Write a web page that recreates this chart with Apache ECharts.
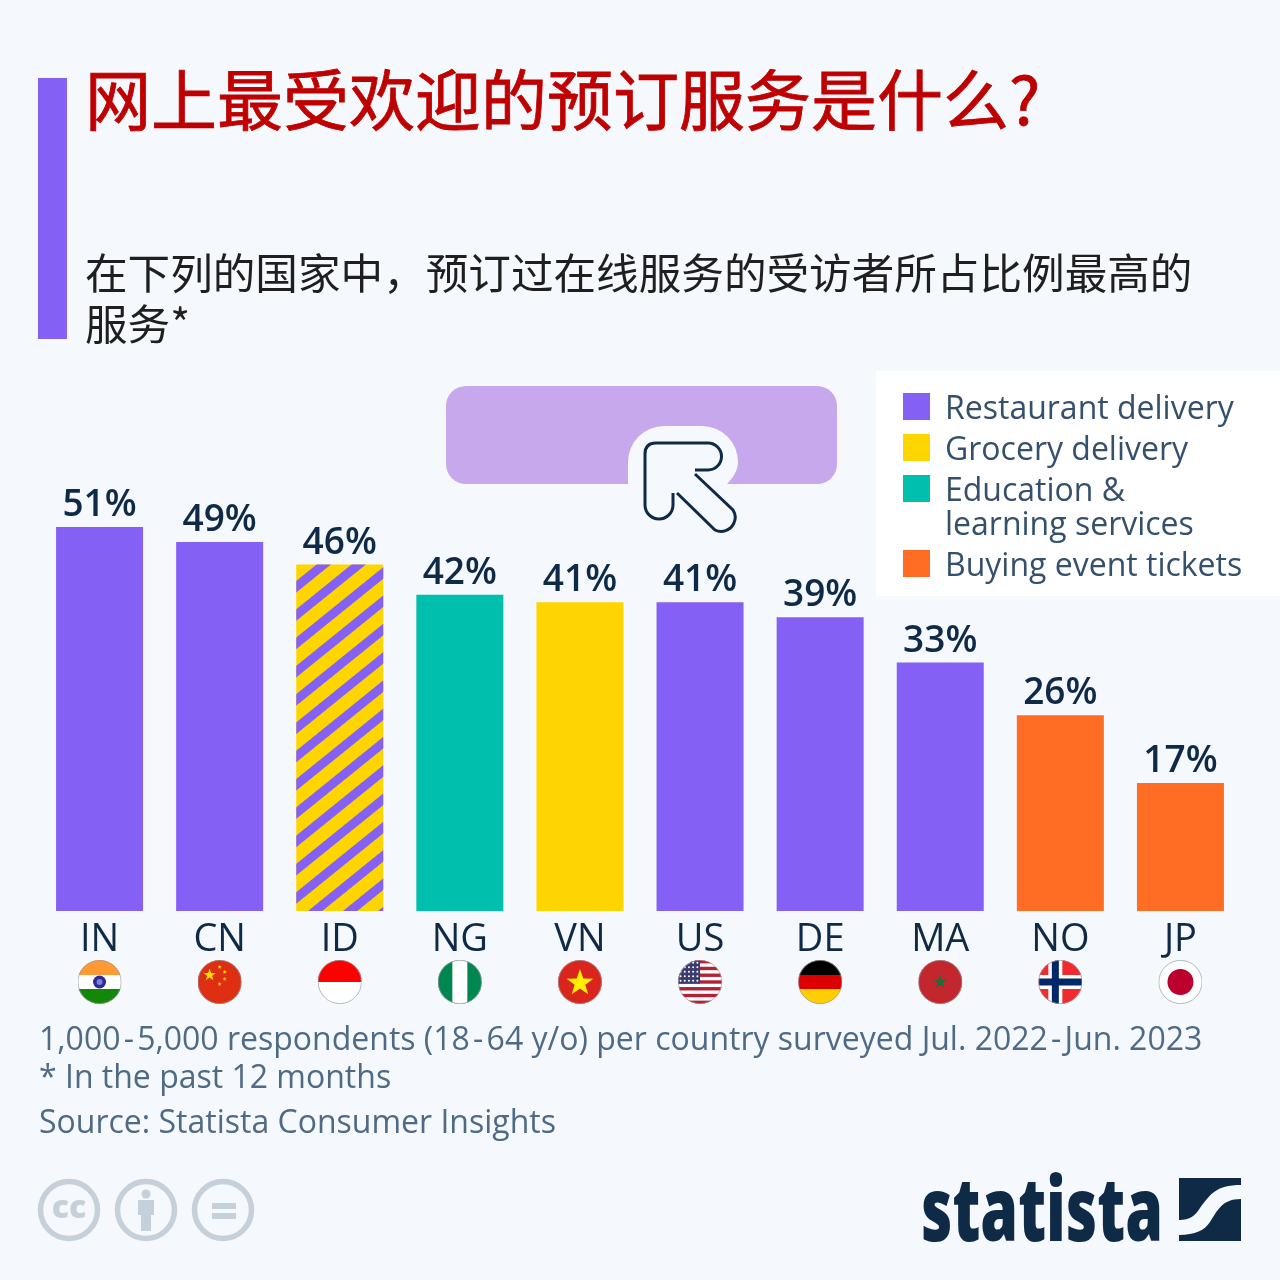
<!DOCTYPE html>
<html>
<head>
<meta charset="utf-8">
<title>网上最受欢迎的预订服务是什么?</title>
<script src="https://cdn.jsdelivr.net/npm/echarts@6/dist/echarts.min.js"></script>
<style>
    html, body { margin: 0; padding: 0; background: #f5f8fc; }
    #main { width: 1280px; height: 1280px; }
</style>
</head>
<body>
<div id="main"></div>
<script>
// 数据
var categories = ['IN', 'CN', 'ID', 'NG', 'VN', 'US', 'DE', 'MA', 'NO', 'JP'];
var restaurant = [51, 49, null, null, null, 41, 39, 33, null, null];
var grocery = [null, null, null, null, 41, null, null, null, null, null];
var education = [null, null, null, 42, null, null, null, null, null, null];
var tickets = [null, null, null, null, null, null, null, null, 26, 17];
// Indonesia: restaurant and grocery tied, drawn striped
var tied = [null, null, 46, null, null, null, null, null, null, null];
var legendNames = ['Restaurant delivery', 'Grocery delivery', 'Education &\nlearning services', 'Buying event tickets'];
var footnotes = [
    '1,000\u200a-\u200a5,000 respondents (18\u200a-\u200a64 y/o) per country surveyed Jul. 2022\u200a-\u200aJun. 2023',
    '* In the past 12 months',
    'Source: Statista Consumer Insights'
];

var BG = '#f5f8fc', NAVY = '#0f2a46', PURPLE = '#8560f5', GOLD = '#ffd500', TEAL = '#00bfad', ORANGE = '#ff6d24';
var FONT = '"Open Sans", sans-serif';
var CJK = '"Noto Sans CJK SC", sans-serif';
var legendColors = [PURPLE, GOLD, TEAL, ORANGE];

// 自定义路径（graphic 组件没有 path 类型）
function regPath(name, d) {
    echarts.graphic.registerShape(name, echarts.graphic.extendPath(d, {}));
}
regPath('cursorHole', 'M628 484 V462 A36 36 0 0 1 664 426 H702 A36 36 0 0 1 738 462 C738 470 733 478 727 484 Z');
regPath('cursorLine', 'M695 470 H708 A13.5 13.5 0 0 0 708 443 H656 Q645 443 645 454 V505 A14 14 0 0 0 673 505 V493 M677 493 L715 530 A14 14 0 0 0 733 510 L695 474');
regPath('personBody', 'M138 1200 H154 V1215 H151 V1231 H141 V1215 H138 Z');
regPath('logoTop', 'M1179 1178 H1241 V1185 C1215 1185 1210 1195 1200 1208 C1195 1216 1190 1220 1179 1220 Z');
regPath('logoBottom', 'M1241 1199 C1222 1199 1218 1210 1210 1222 C1205 1230 1195 1235 1179 1235 V1241 H1241 Z');

// 五角星
function star(cx, cy, r, fill, rot) {
    var pts = [];
    for (var i = 0; i < 10; i++) {
        var a = -Math.PI / 2 + (rot || 0) + i * Math.PI / 5;
        var d = i % 2 ? r * 0.4 : r;
        pts.push((cx + d * Math.cos(a)).toFixed(2) + ',' + (cy + d * Math.sin(a)).toFixed(2));
    }
    return '<polygon fill="' + fill + '" points="' + pts.join(' ') + '"/>';
}
function usStripes() {
    var s = '<rect width="44" height="44" fill="#fff"/>';
    for (var i = 0; i < 7; i++) {
        s += '<rect y="' + (i * 6.77) + '" width="44" height="3.38" fill="#b22234"/>';
    }
    s += '<rect width="22" height="23.7" fill="#3c3b6e"/>';
    for (var r = 0; r < 5; r++) {
        for (var c = 0; c < 5; c++) {
            s += '<circle cx="' + (2.5 + c * 4.2) + '" cy="' + (2.8 + r * 4.5) + '" r="1" fill="#fff"/>';
        }
    }
    return s;
}
var flagBodies = {
    IN: '<rect width="44" height="15" fill="#ff9933"/><rect y="15" width="44" height="14" fill="#fff"/><rect y="29" width="44" height="15" fill="#138808"/>' +
        '<circle cx="22" cy="22" r="6.5" fill="#2a2a9a"/><circle cx="22" cy="22" r="3" fill="#7f7fd0"/>',
    CN: '<rect width="44" height="44" fill="#de2f12"/>' + star(12, 15, 6.5, '#ffde00') + star(22, 7, 2.2, '#ffde00') +
        star(27, 12, 2.2, '#ffde00') + star(27, 19, 2.2, '#ffde00') + star(22, 24, 2.2, '#ffde00'),
    ID: '<rect width="44" height="22" fill="#ff0000"/><rect y="22" width="44" height="22" fill="#fff"/>',
    NG: '<rect width="44" height="44" fill="#008751"/><rect x="14.5" width="15" height="44" fill="#fff"/>',
    VN: '<rect width="44" height="44" fill="#da251d"/>' + star(22, 23, 14, '#ffef00'),
    US: usStripes(),
    DE: '<rect width="44" height="15" fill="#000"/><rect y="15" width="44" height="14" fill="#dd0000"/><rect y="29" width="44" height="15" fill="#ffce00"/>',
    MA: '<rect width="44" height="44" fill="#c1272d"/>' + star(22, 22, 7, '#1f6b3a'),
    NO: '<rect width="44" height="44" fill="#ef2b2d"/><rect x="10" width="14" height="44" fill="#fff"/><rect y="15" width="44" height="14" fill="#fff"/>' +
        '<rect x="13.5" width="7" height="44" fill="#002868"/><rect y="18.5" width="44" height="7" fill="#002868"/>',
    JP: '<rect width="44" height="44" fill="#fff"/><circle cx="22" cy="22" r="13" fill="#bc002d"/>'
};
function flagImage(code) {
    var svg = '<svg xmlns="http://www.w3.org/2000/svg" width="88" height="88" viewBox="0 0 44 44">' +
        '<defs><clipPath id="c"><circle cx="22" cy="22" r="22"/></clipPath></defs>' +
        '<g clip-path="url(#c)">' + flagBodies[code] + '</g>' +
        '<circle cx="22" cy="22" r="21.6" fill="none" stroke="#9a9a9a" stroke-width="0.7"/></svg>';
    return 'data:image/svg+xml;charset=utf-8,' + encodeURIComponent(svg);
}

var axisRich = {
    name: { fontFamily: FONT, fontSize: 38, color: NAVY, height: 39, lineHeight: 39, align: 'center' }
};
categories.forEach(function (code) {
    axisRich['flag' + code] = { height: 44, width: 44, align: 'center', backgroundColor: { image: flagImage(code) } };
});

// 图例：色块和首行对齐，用富文本画
var legendRich = { ind: { width: 42 }, t: { fontFamily: FONT, fontSize: 32, color: '#34506c', lineHeight: 34 } };
legendNames.forEach(function (n, i) {
    legendRich['sw' + i] = { width: 27, height: 27, verticalAlign: 'top', backgroundColor: legendColors[i] };
    legendRich['gap' + i] = { width: 15 };
});
function legendText(name) {
    var i = legendNames.indexOf(name);
    var lines = name.split('\n');
    var s = '{sw' + i + '|}{gap' + i + '|}{t|' + lines[0] + '}';
    if (lines[1]) {
        s += '\n{ind|}{t|' + lines[1] + '}';
    }
    return s;
}

function barSeries(name, values, color, extra) {
    var s = {
        name: name,
        type: 'bar',
        stack: 'all',
        barWidth: 87,
        data: values,
        itemStyle: { color: color },
        label: {
            show: true,
            position: 'top',
            distance: 3,
            formatter: '{c}%',
            fontFamily: FONT,
            fontWeight: 600,
            fontSize: 37,
            color: NAVY
        }
    };
    if (extra) {
        s.itemStyle.decal = extra;
    }
    return s;
}

var chart = echarts.init(document.getElementById('main'));
chart.setOption({
    backgroundColor: BG,
    animation: false,
    title: [
        {
            text: '网上最受欢迎的预订服务是什么?',
            left: 85, top: 60,
            padding: 0,
            textStyle: { fontFamily: CJK, fontSize: 66, fontWeight: 400, color: '#bf0000', lineHeight: 80, textBorderColor: '#bf0000', textBorderWidth: 0.8 }
        },
        {
            text: '在下列的国家中，预订过在线服务的受访者所占比例最高的\n服务*',
            left: 85, top: 247,
            padding: 0,
            textStyle: { fontFamily: CJK, fontSize: 42.6, fontWeight: 400, color: '#1f1f1f', lineHeight: 51 }
        }
    ],
    legend: {
        data: legendNames,
        orient: 'vertical',
        left: 898, top: 393,
        padding: 0,
        itemWidth: 0,
        itemHeight: 0,
        itemGap: 8,
        icon: 'none',
        selectedMode: false,
        formatter: legendText,
        textStyle: { rich: legendRich }
    },
    grid: { left: 39.5, right: 39.5, top: 459.2, height: 451.8 },
    xAxis: {
        type: 'category',
        data: categories,
        axisLine: { show: false },
        axisTick: { show: false },
        axisLabel: {
            margin: 10,
            interval: 0,
            formatter: function (v) {
                return '{name|' + v + '}\n{flag' + v + '|}';
            },
            rich: axisRich
        }
    },
    yAxis: { type: 'value', min: 0, max: 60, show: false, splitLine: { show: false } },
    series: [
        barSeries(legendNames[0], restaurant, PURPLE),
        barSeries(legendNames[1], grocery, GOLD),
        barSeries(legendNames[2], education, TEAL),
        barSeries(legendNames[3], tickets, ORANGE),
        barSeries('Restaurant / grocery delivery', tied, GOLD, {
            symbol: 'rect', symbolSize: 1, color: PURPLE,
            dashArrayX: [1, 0], dashArrayY: [9, 13], rotation: -0.68
        })
    ],
    graphic: [
        // 标题左侧色条
        { type: 'rect', shape: { x: 38, y: 78, width: 29, height: 261 }, style: { fill: PURPLE } },
        // 图例底框
        { type: 'rect', z: 0, shape: { x: 876, y: 371, width: 404, height: 225 }, style: { fill: '#fff' } },
        // 鼠标指针框
        { type: 'rect', shape: { x: 446, y: 386, width: 391, height: 98, r: 20 }, style: { fill: '#c7a8ec' } },
        { type: 'cursorHole', style: { fill: BG } },
        { type: 'cursorLine', style: { fill: 'none', stroke: NAVY, lineWidth: 3 } },
        // 脚注
        { type: 'text', style: { text: footnotes[0], x: 39, y: 1041, fontFamily: FONT, fontSize: 32, fill: '#4f6a85', verticalAlign: 'middle' } },
        { type: 'text', style: { text: footnotes[1], x: 39, y: 1079, fontFamily: FONT, fontSize: 32, fill: '#4f6a85', verticalAlign: 'middle' } },
        { type: 'text', style: { text: footnotes[2], x: 39, y: 1124, fontFamily: FONT, fontSize: 32, fill: '#4f6a85', verticalAlign: 'middle' } },
        // CC 图标
        { type: 'circle', shape: { cx: 69, cy: 1210, r: 28.5 }, style: { fill: 'none', stroke: '#c5d0da', lineWidth: 5.5 } },
        { type: 'text', style: { text: 'cc', x: 69, y: 1209, fontFamily: FONT, fontWeight: 800, fontSize: 32, fill: '#c5d0da', align: 'center', verticalAlign: 'middle' } },
        { type: 'circle', shape: { cx: 146, cy: 1210, r: 28.5 }, style: { fill: 'none', stroke: '#c5d0da', lineWidth: 5.5 } },
        { type: 'circle', shape: { cx: 146, cy: 1194, r: 4.5 }, style: { fill: '#c5d0da' } },
        { type: 'personBody', style: { fill: '#c5d0da' } },
        { type: 'circle', shape: { cx: 223, cy: 1210, r: 28.5 }, style: { fill: 'none', stroke: '#c5d0da', lineWidth: 5.5 } },
        { type: 'rect', shape: { x: 212, y: 1203, width: 24, height: 6 }, style: { fill: '#c5d0da' } },
        { type: 'rect', shape: { x: 212, y: 1213, width: 24, height: 6 }, style: { fill: '#c5d0da' } },
        // Statista 标志
        { type: 'text', x: 921, y: 1216, scaleX: 0.69, style: { text: 'statista', x: 0, y: 0, fontFamily: FONT, fontWeight: 800, fontSize: 88, fill: NAVY, verticalAlign: 'middle' } },
        { type: 'logoTop', style: { fill: NAVY } },
        { type: 'logoBottom', style: { fill: NAVY } }
    ]
});
</script>
</body>
</html>
